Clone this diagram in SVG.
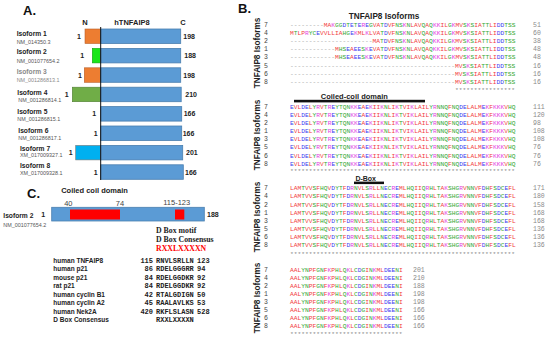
<svg xmlns="http://www.w3.org/2000/svg" xmlns:xlink="http://www.w3.org/1999/xlink" width="550" height="340" viewBox="0 0 550 340">
<style>
.panel{font-family:"Liberation Sans",Arial,sans-serif;font-weight:bold;font-size:13px;fill:#111}
.hb{font-family:"Liberation Sans",Arial,sans-serif;font-weight:bold;fill:#222}
.iso{font-family:"Liberation Sans",Arial,sans-serif;font-weight:bold;font-size:6.7px;fill:#222}
.acc{font-family:"Liberation Sans",Arial,sans-serif;font-size:5.4px;fill:#555}
.gry{fill:#8a8a8a}
.aa{font-family:"Liberation Sans",Arial,sans-serif;font-weight:bold;font-size:7px;fill:#222}
.blue{fill:#5b9bd5;stroke:#4a7fb0;stroke-width:0.8}
.seq{font-family:"Liberation Mono",monospace;font-size:6.25px}
.r{fill:#f23c3c}.b{fill:#3b3bef}.m{fill:#e23ce2}.g{fill:#33a833}.x{fill:#9a9a9a}
.st{font-family:"Liberation Mono",monospace;font-size:6.25px;fill:#8a8a8a}
.rn{font-family:"Liberation Mono",monospace;font-size:6.5px;fill:#444}
.en{font-family:"Liberation Mono",monospace;font-size:6.5px;fill:#8a8a8a}
.vl{font-family:"Liberation Sans",Arial,sans-serif;font-weight:bold;font-size:8.2px;fill:#222;text-anchor:middle}
.srf{font-family:"Liberation Serif","Times New Roman",serif;font-weight:bold;font-size:7.8px;fill:#222}
.tn{font-family:"Liberation Sans",Arial,sans-serif;font-weight:bold;font-size:6.5px;fill:#222}
.tm{font-family:"Liberation Mono","Courier New",monospace;font-weight:bold;font-size:7px;fill:#222}
.pos{font-family:"Liberation Sans",Arial,sans-serif;font-size:7.5px;fill:#444;text-anchor:middle}
</style>
<defs>
<text id="s7" class="seq" x="290" y="0"><tspan class="x">---------</tspan><tspan class="r">MA</tspan><tspan class="m">K</tspan><tspan class="g">GG</tspan><tspan class="b">D</tspan><tspan class="g">T</tspan><tspan class="b">E</tspan><tspan class="g">T</tspan><tspan class="b">E</tspan><tspan class="m">R</tspan><tspan class="b">E</tspan><tspan class="g">G</tspan><tspan class="r">V</tspan><tspan class="r">A</tspan><tspan class="g">T</tspan><tspan class="b">D</tspan><tspan class="r">VF</tspan><tspan class="g">NS</tspan><tspan class="m">K</tspan><tspan class="g">N</tspan><tspan class="r">LAV</tspan><tspan class="g">Q</tspan><tspan class="r">A</tspan><tspan class="g">Q</tspan><tspan class="m">KK</tspan><tspan class="r">IL</tspan><tspan class="g">G</tspan><tspan class="m">K</tspan><tspan class="r">MV</tspan><tspan class="g">S</tspan><tspan class="m">K</tspan><tspan class="g">S</tspan><tspan class="r">IA</tspan><tspan class="g">TT</tspan><tspan class="r">LI</tspan><tspan class="b">DD</tspan><tspan class="g">TSS</tspan></text>
<text id="s4" class="seq" x="290" y="0"><tspan class="r">M</tspan><tspan class="g">T</tspan><tspan class="r">LP</tspan><tspan class="m">R</tspan><tspan class="g">YC</tspan><tspan class="b">E</tspan><tspan class="r">VVLLIA</tspan><tspan class="g">HG</tspan><tspan class="b">E</tspan><tspan class="m">K</tspan><tspan class="r">ML</tspan><tspan class="m">K</tspan><tspan class="r">LV</tspan><tspan class="r">A</tspan><tspan class="g">T</tspan><tspan class="b">D</tspan><tspan class="r">VF</tspan><tspan class="g">NS</tspan><tspan class="m">K</tspan><tspan class="g">N</tspan><tspan class="r">LAV</tspan><tspan class="g">Q</tspan><tspan class="r">A</tspan><tspan class="g">Q</tspan><tspan class="m">KK</tspan><tspan class="r">IL</tspan><tspan class="g">G</tspan><tspan class="m">K</tspan><tspan class="r">MV</tspan><tspan class="g">S</tspan><tspan class="m">K</tspan><tspan class="g">S</tspan><tspan class="r">IA</tspan><tspan class="g">TT</tspan><tspan class="r">LI</tspan><tspan class="b">DD</tspan><tspan class="g">TSS</tspan></text>
<text id="s2" class="seq" x="290" y="0"><tspan class="x">----------------------</tspan><tspan class="r">M</tspan><tspan class="r">A</tspan><tspan class="g">T</tspan><tspan class="b">D</tspan><tspan class="r">VF</tspan><tspan class="g">NS</tspan><tspan class="m">K</tspan><tspan class="g">N</tspan><tspan class="r">LAV</tspan><tspan class="g">Q</tspan><tspan class="r">A</tspan><tspan class="g">Q</tspan><tspan class="m">KK</tspan><tspan class="r">IL</tspan><tspan class="g">G</tspan><tspan class="m">K</tspan><tspan class="r">MV</tspan><tspan class="g">S</tspan><tspan class="m">K</tspan><tspan class="g">S</tspan><tspan class="r">IA</tspan><tspan class="g">TT</tspan><tspan class="r">LI</tspan><tspan class="b">DD</tspan><tspan class="g">TSS</tspan></text>
<text id="s1" class="seq" x="290" y="0"><tspan class="x">------------</tspan><tspan class="r">M</tspan><tspan class="g">HS</tspan><tspan class="b">E</tspan><tspan class="r">A</tspan><tspan class="b">EE</tspan><tspan class="g">S</tspan><tspan class="m">K</tspan><tspan class="b">E</tspan><tspan class="r">V</tspan><tspan class="r">A</tspan><tspan class="g">T</tspan><tspan class="b">D</tspan><tspan class="r">VF</tspan><tspan class="g">NS</tspan><tspan class="m">K</tspan><tspan class="g">N</tspan><tspan class="r">LAV</tspan><tspan class="g">Q</tspan><tspan class="r">A</tspan><tspan class="g">Q</tspan><tspan class="m">KK</tspan><tspan class="r">IL</tspan><tspan class="g">G</tspan><tspan class="m">K</tspan><tspan class="r">MV</tspan><tspan class="g">S</tspan><tspan class="m">K</tspan><tspan class="g">S</tspan><tspan class="r">IA</tspan><tspan class="g">TT</tspan><tspan class="r">LI</tspan><tspan class="b">DD</tspan><tspan class="g">TSS</tspan></text>
<text id="s5" class="seq" x="290" y="0"><tspan class="x">--------------------------------------------</tspan><tspan class="r">MV</tspan><tspan class="g">S</tspan><tspan class="m">K</tspan><tspan class="g">S</tspan><tspan class="r">IA</tspan><tspan class="g">TT</tspan><tspan class="r">LI</tspan><tspan class="b">DD</tspan><tspan class="g">TSS</tspan></text>
<text id="b2" class="seq" x="290" y="0"><tspan class="b">E</tspan><tspan class="r">VL</tspan><tspan class="b">DE</tspan><tspan class="r">L</tspan><tspan class="g">Y</tspan><tspan class="m">R</tspan><tspan class="r">V</tspan><tspan class="g">T</tspan><tspan class="m">R</tspan><tspan class="b">E</tspan><tspan class="g">YTQN</tspan><tspan class="m">KK</tspan><tspan class="b">E</tspan><tspan class="r">A</tspan><tspan class="b">E</tspan><tspan class="m">K</tspan><tspan class="r">II</tspan><tspan class="m">K</tspan><tspan class="g">N</tspan><tspan class="r">LI</tspan><tspan class="m">K</tspan><tspan class="g">T</tspan><tspan class="r">VI</tspan><tspan class="m">K</tspan><tspan class="r">LAIL</tspan><tspan class="g">Y</tspan><tspan class="m">R</tspan><tspan class="g">NNQ</tspan><tspan class="r">F</tspan><tspan class="g">NQ</tspan><tspan class="b">DE</tspan><tspan class="r">LALM</tspan><tspan class="b">E</tspan><tspan class="m">K</tspan><tspan class="r">F</tspan><tspan class="m">KKK</tspan><tspan class="r">V</tspan><tspan class="g">HQ</tspan></text>
<text id="b3" class="seq" x="290" y="0"><tspan class="r">LAM</tspan><tspan class="g">T</tspan><tspan class="r">VV</tspan><tspan class="g">S</tspan><tspan class="r">F</tspan><tspan class="g">HQ</tspan><tspan class="r">V</tspan><tspan class="b">D</tspan><tspan class="g">YT</tspan><tspan class="r">F</tspan><tspan class="b">D</tspan><tspan class="m">R</tspan><tspan class="g">N</tspan><tspan class="r">VL</tspan><tspan class="g">S</tspan><tspan class="m">R</tspan><tspan class="r">LL</tspan><tspan class="g">N</tspan><tspan class="b">E</tspan><tspan class="g">C</tspan><tspan class="m">R</tspan><tspan class="b">E</tspan><tspan class="r">ML</tspan><tspan class="g">HQ</tspan><tspan class="r">II</tspan><tspan class="g">Q</tspan><tspan class="m">R</tspan><tspan class="g">H</tspan><tspan class="r">L</tspan><tspan class="g">T</tspan><tspan class="r">A</tspan><tspan class="m">K</tspan><tspan class="g">SHG</tspan><tspan class="m">R</tspan><tspan class="r">V</tspan><tspan class="g">NN</tspan><tspan class="r">VF</tspan><tspan class="b">D</tspan><tspan class="g">H</tspan><tspan class="r">F</tspan><tspan class="g">S</tspan><tspan class="b">D</tspan><tspan class="g">C</tspan><tspan class="b">E</tspan><tspan class="r">FL</tspan></text>
<text id="b4" class="seq" x="290" y="0"><tspan class="r">AAL</tspan><tspan class="g">YN</tspan><tspan class="r">PF</tspan><tspan class="g">GN</tspan><tspan class="r">F</tspan><tspan class="m">K</tspan><tspan class="r">P</tspan><tspan class="g">H</tspan><tspan class="r">L</tspan><tspan class="g">Q</tspan><tspan class="m">K</tspan><tspan class="r">L</tspan><tspan class="g">C</tspan><tspan class="b">D</tspan><tspan class="g">G</tspan><tspan class="r">I</tspan><tspan class="g">N</tspan><tspan class="m">K</tspan><tspan class="r">ML</tspan><tspan class="b">DEE</tspan><tspan class="g">N</tspan><tspan class="r">I</tspan></text>
</defs>

<!-- Panel A -->
<g id="panelA">
<text class="panel" x="23" y="15">A.</text>
<text class="hb" font-size="7.5" x="85" y="24.7" text-anchor="middle">N</text>
<text class="hb" font-size="7.5" x="132" y="24.7" text-anchor="middle">hTNFAIP8</text>
<text class="hb" font-size="7.5" x="183" y="24.7" text-anchor="middle">C</text>
</g>
<g id="isoform1">
<text class="iso" x="16.7" y="36.4">Isoform 1</text><text class="acc" x="16.7" y="44.3">NM_014350.3</text>
<rect x="85" y="29" width="15.7" height="14.5" fill="#ed7d31" stroke="#b8602a" stroke-width="0.6"/>
<rect class="blue" x="100.7" y="29" width="80" height="14.5"/>
<text class="aa" x="79" y="38.8" text-anchor="middle">1</text><text class="aa" x="183.3" y="38.8">198</text>
</g>
<g id="isoform2">
<text class="iso" x="16.7" y="54.4">Isoform 2</text><text class="acc" x="16.7" y="63">NM_001077654.2</text>
<rect x="92.3" y="48.4" width="8.4" height="14.5" fill="#19e619" stroke="#12a012" stroke-width="0.6"/>
<rect class="blue" x="100.7" y="48.4" width="80" height="14.5"/>
<text class="aa" x="82.3" y="58.2" text-anchor="middle">1</text><text class="aa" x="184.3" y="58.2">188</text>
</g>
<g id="isoform3">
<text class="iso gry" x="16.7" y="73.8">Isoform 3</text><text class="acc gry" x="16.7" y="81.6">NM_001286813.1</text>
<rect x="84.3" y="67.8" width="16.4" height="14.5" fill="#ed7d31" stroke="#b8602a" stroke-width="0.6"/>
<rect class="blue" x="100.7" y="67.8" width="80" height="14.5"/>
<text class="aa" x="80" y="77.6" text-anchor="middle">1</text><text class="aa" x="183.3" y="77.6">198</text>
</g>
<g id="isoform4">
<text class="iso" x="17.3" y="94.7">Isoform 4</text><text class="acc" x="18.3" y="101.7">NM_001286814.1</text>
<rect x="72.3" y="87.2" width="28.4" height="14.5" fill="#70ad47" stroke="#507e33" stroke-width="0.6"/>
<rect class="blue" x="100.7" y="87.2" width="80.5" height="14.5"/>
<text class="aa" x="66.7" y="97" text-anchor="middle">1</text><text class="aa" x="185.3" y="97">210</text>
</g>
<g id="isoform5">
<text class="iso" x="17.3" y="114.4">Isoform 5</text><text class="acc" x="17.3" y="121.3">NM_001286815.1</text>
<rect class="blue" x="100.7" y="106.6" width="81" height="14.5"/>
<text class="aa" x="94.3" y="116.4" text-anchor="middle">1</text><text class="aa" x="183.7" y="116.4">166</text>
</g>
<g id="isoform6">
<text class="iso" x="18.3" y="133.4">Isoform 6</text><text class="acc" x="18.3" y="139.7">NM_001286817.1</text>
<rect class="blue" x="100.7" y="126" width="81" height="14.5"/>
<text class="aa" x="95.7" y="135.8" text-anchor="middle">1</text><text class="aa" x="182.7" y="135.8">166</text>
</g>
<g id="isoform7">
<text class="iso" x="20" y="150.7">Isoform 7</text><text class="acc" x="20" y="157">XM_017009327.1</text>
<rect x="75.7" y="145.4" width="25" height="14.5" fill="#00b0f0" stroke="#777" stroke-width="0.6"/>
<rect class="blue" x="100.7" y="145.4" width="82" height="14.5"/>
<text class="aa" x="70.7" y="155.2" text-anchor="middle">1</text><text class="aa" x="186" y="155.2">201</text>
</g>
<g id="isoform8">
<text class="iso" x="20" y="168.4">Isoform 8</text><text class="acc" x="20" y="174.7">XM_017009328.1</text>
<rect class="blue" x="100.7" y="164.8" width="82.6" height="14.5"/>
<text class="aa" x="95.7" y="174.6" text-anchor="middle">1</text><text class="aa" x="185" y="174.6">166</text>
</g>
<g id="connectors">
<line x1="100.7" y1="27" x2="100.7" y2="180" stroke="#111" stroke-width="1"/>
</g>

<!-- Panel B -->
<g id="panelB">
<text class="panel" x="238" y="13">B.</text>
<text class="hb" font-size="8.2" x="384" y="18.6" text-anchor="middle">TNFAIP8 Isoforms</text>
<text class="vl" x="259.5" y="53" transform="rotate(-90 259.5 53)">TNFAIP8 Isoforms</text>
<text class="vl" x="259.5" y="135" transform="rotate(-90 259.5 135)">TNFAIP8 Isoforms</text>
<text class="vl" x="259.5" y="217" transform="rotate(-90 259.5 217)">TNFAIP8 Isoforms</text>
<text class="vl" x="259.5" y="298" transform="rotate(-90 259.5 298)">TNFAIP8 Isoforms</text>
</g>
<g id="block1">
<use href="#s7" xlink:href="#s7" y="26.5"/>
<use href="#s4" xlink:href="#s4" y="34.7"/>
<use href="#s2" xlink:href="#s2" y="42.9"/>
<use href="#s1" xlink:href="#s1" y="51.1"/>
<use href="#s1" xlink:href="#s1" y="59.3"/>
<use href="#s5" xlink:href="#s5" y="67.5"/>
<use href="#s5" xlink:href="#s5" y="75.7"/>
<use href="#s5" xlink:href="#s5" y="83.9"/>
<text class="st" x="455" y="92.2">****************</text>
<text class="rn" x="264" y="26.5">7</text><text class="rn" x="264" y="34.7">4</text><text class="rn" x="264" y="42.9">2</text><text class="rn" x="264" y="51.1">1</text><text class="rn" x="264" y="59.3">3</text><text class="rn" x="264" y="67.5">5</text><text class="rn" x="264" y="75.7">6</text><text class="rn" x="264" y="83.9">8</text>
<text class="en" x="533" y="26.5">51</text><text class="en" x="533" y="34.7">60</text><text class="en" x="533" y="42.9">38</text><text class="en" x="533" y="51.1">48</text><text class="en" x="533" y="59.3">48</text><text class="en" x="533" y="67.5">16</text><text class="en" x="533" y="75.7">16</text><text class="en" x="533" y="83.9">16</text>
</g>
<g id="block2">
<rect x="294" y="99.8" width="131" height="2.6" fill="#111"/>
<text class="hb" font-size="7.5" x="354.3" y="99.2" text-anchor="middle">Coiled-coil domain</text>
<use href="#b2" xlink:href="#b2" y="108.9"/><use href="#b2" xlink:href="#b2" y="117"/><use href="#b2" xlink:href="#b2" y="125.1"/><use href="#b2" xlink:href="#b2" y="133.2"/><use href="#b2" xlink:href="#b2" y="141.3"/><use href="#b2" xlink:href="#b2" y="149.4"/><use href="#b2" xlink:href="#b2" y="157.5"/><use href="#b2" xlink:href="#b2" y="165.6"/>
<text class="st" x="290" y="172.8">************************************************************</text>
<text class="rn" x="264" y="108.9">7</text><text class="rn" x="264" y="117">4</text><text class="rn" x="264" y="125.1">2</text><text class="rn" x="264" y="133.2">1</text><text class="rn" x="264" y="141.3">3</text><text class="rn" x="264" y="149.4">5</text><text class="rn" x="264" y="157.5">6</text><text class="rn" x="264" y="165.6">8</text>
<text class="en" x="533" y="108.9">111</text><text class="en" x="533" y="117">120</text><text class="en" x="533" y="125.1">98</text><text class="en" x="533" y="133.2">108</text><text class="en" x="533" y="141.3">108</text><text class="en" x="533" y="149.4">76</text><text class="en" x="533" y="157.5">76</text><text class="en" x="533" y="165.6">76</text>
</g>
<g id="block3">
<rect x="354" y="181.6" width="30" height="2.5" fill="#111"/>
<text class="hb" font-size="7" x="365.7" y="181.3" text-anchor="middle">D-Box</text>
<use href="#b3" xlink:href="#b3" y="190.2"/><use href="#b3" xlink:href="#b3" y="198.4"/><use href="#b3" xlink:href="#b3" y="206.5"/><use href="#b3" xlink:href="#b3" y="214.7"/><use href="#b3" xlink:href="#b3" y="222.9"/><use href="#b3" xlink:href="#b3" y="231.1"/><use href="#b3" xlink:href="#b3" y="239.2"/><use href="#b3" xlink:href="#b3" y="247.4"/>
<text class="st" x="290" y="255.6">************************************************************</text>
<text class="rn" x="264" y="190.2">7</text><text class="rn" x="264" y="198.4">4</text><text class="rn" x="264" y="206.5">2</text><text class="rn" x="264" y="214.7">1</text><text class="rn" x="264" y="222.9">3</text><text class="rn" x="264" y="231.1">5</text><text class="rn" x="264" y="239.2">6</text><text class="rn" x="264" y="247.4">8</text>
<text class="en" x="533" y="190.2">171</text><text class="en" x="533" y="198.4">180</text><text class="en" x="533" y="206.5">158</text><text class="en" x="533" y="214.7">168</text><text class="en" x="533" y="222.9">168</text><text class="en" x="533" y="231.1">136</text><text class="en" x="533" y="239.2">136</text><text class="en" x="533" y="247.4">136</text>
</g>
<g id="block4">
<use href="#b4" xlink:href="#b4" y="271.5"/><use href="#b4" xlink:href="#b4" y="279.5"/><use href="#b4" xlink:href="#b4" y="287.5"/><use href="#b4" xlink:href="#b4" y="295.5"/><use href="#b4" xlink:href="#b4" y="303.5"/><use href="#b4" xlink:href="#b4" y="311.5"/><use href="#b4" xlink:href="#b4" y="319.5"/><use href="#b4" xlink:href="#b4" y="327.5"/>
<text class="st" x="290" y="335.5">******************************</text>
<text class="rn" x="264" y="271.5">7</text><text class="rn" x="264" y="279.5">4</text><text class="rn" x="264" y="287.5">2</text><text class="rn" x="264" y="295.5">1</text><text class="rn" x="264" y="303.5">3</text><text class="rn" x="264" y="311.5">5</text><text class="rn" x="264" y="319.5">6</text><text class="rn" x="264" y="327.5">8</text>
<text class="en" x="413" y="271.5">201</text><text class="en" x="413" y="279.5">210</text><text class="en" x="413" y="287.5">188</text><text class="en" x="413" y="295.5">198</text><text class="en" x="413" y="303.5">198</text><text class="en" x="413" y="311.5">166</text><text class="en" x="413" y="319.5">166</text><text class="en" x="413" y="327.5">166</text>
</g>

<!-- Panel C -->
<g id="panelC">
<text class="panel" x="27" y="198">C.</text>
<text class="hb" font-size="7.5" x="94.5" y="193" text-anchor="middle">Coiled coil domain</text>
<text class="iso" x="3.3" y="218.4">Isoform 2</text>
<text class="acc" x="3.3" y="227">NM_001077654.2</text>
<text class="aa" x="43.3" y="216.5" text-anchor="middle">1</text>
<rect class="blue" x="51.7" y="207.3" width="152.6" height="13.7"/>
<rect x="70" y="209.5" width="50" height="10" fill="#ff0000"/>
<rect x="175" y="209.5" width="9.3" height="10" fill="#ff0000"/>
<text class="pos" x="68.3" y="206">40</text>
<text class="pos" x="120" y="206">74</text>
<text class="pos" x="176.7" y="205">115-123</text>
<text class="aa" x="207" y="216.8">188</text>
</g>
<g id="dbox">
<text class="srf" x="156" y="232.8">D Box motif</text>
<text class="srf" x="156" y="241.6">D Box Consensus</text>
<text class="srf" x="156" y="250.6" style="fill:#ff0000">RXXLXXXXN</text>
<text class="tn" x="53.3" y="263">human TNFAIP8</text>
<text class="tn" x="53.3" y="271.3">human p21</text>
<text class="tn" x="53.3" y="280">mouse p21</text>
<text class="tn" x="53.3" y="288.3">rat p21</text>
<text class="tn" x="53.3" y="297">human cyclin B1</text>
<text class="tn" x="53.3" y="305.3">human cyclin A2</text>
<text class="tn" x="53.3" y="313.6">human Nek2A</text>
<text class="tn" x="53.3" y="322.3">D Box Consensus</text>
<g class="tm" text-anchor="end">
<text x="153" y="263">115</text><text x="153" y="271.3">86</text><text x="153" y="280">84</text><text x="153" y="288.3">84</text><text x="153" y="297">42</text><text x="153" y="305.3">45</text><text x="153" y="313.6">420</text>
</g>
<g class="tm">
<text x="156" y="263">RNVLSRLLN</text><text x="156" y="271.3">RDELGGGRR</text><text x="156" y="280">RDELGGDKR</text><text x="156" y="288.3">RDELGGDKR</text><text x="156" y="297">RTALGDIGN</text><text x="156" y="305.3">RAALAVLKS</text><text x="156" y="313.6">RKFLSLASN</text><text x="156" y="322.3">RXXLXXXXN</text>
<text x="197" y="263">123</text><text x="197" y="271.3">94</text><text x="197" y="280">92</text><text x="197" y="288.3">92</text><text x="197" y="297">50</text><text x="197" y="305.3">53</text><text x="197" y="313.6">528</text>
</g>
</g>
</svg>
